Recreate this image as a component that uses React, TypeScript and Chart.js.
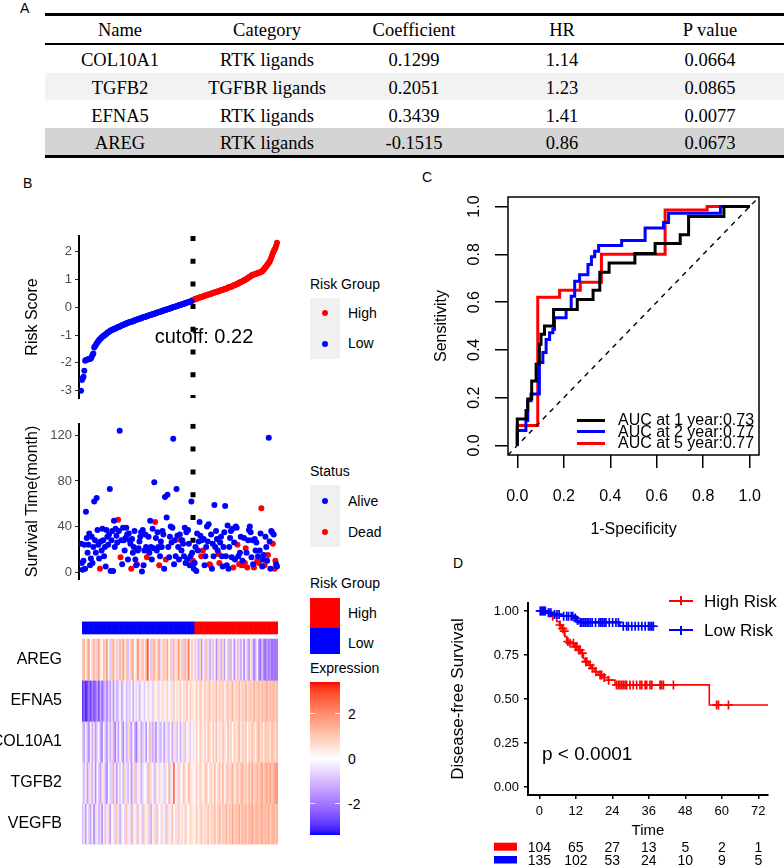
import React, { useEffect, useRef } from "react";
import { Chart, registerables } from "chart.js";

Chart.register(...registerables);

const SANS = '"Liberation Sans", Arial, sans-serif';
const SERIF = '"Liberation Serif", "Times New Roman", serif';
Chart.defaults.font.family = SANS;

// ---------------- Panel A : table ----------------
const tableColumns = ["Name", "Category", "Coefficient", "HR", "P value"];
const geneNames = ["COL10A1", "TGFB2", "EFNA5", "AREG"];
const geneCategories = ["RTK ligands", "TGFBR ligands", "RTK ligands", "RTK ligands"];
const geneCoefficients = ["0.1299", "0.2051", "0.3439", "-0.1515"];
const geneHR = ["1.14", "1.23", "1.41", "0.86"];
const genePValues = ["0.0664", "0.0865", "0.0077", "0.0673"];

// ---------------- Panel B : risk score / survival / heatmap ----------------
const riskScores = [
  -3.0, -2.62, -2.56, -2.5, -2.28, -1.92, -1.9, -1.89, -1.88, -1.87,
  -1.86, -1.85, -1.84, -1.78, -1.72, -1.66, -1.45, -1.4, -1.36, -1.3,
  -1.26, -1.22, -1.18, -1.15, -1.12, -1.09, -1.06, -1.04, -1.02, -1.0,
  -0.97, -0.95, -0.92, -0.9, -0.88, -0.86, -0.84, -0.83, -0.81, -0.8,
  -0.78, -0.77, -0.76, -0.74, -0.73, -0.72, -0.7, -0.69, -0.68, -0.66,
  -0.65, -0.64, -0.62, -0.61, -0.6, -0.58, -0.57, -0.56, -0.55, -0.54,
  -0.53, -0.52, -0.51, -0.5, -0.49, -0.48, -0.46, -0.45, -0.44, -0.43,
  -0.42, -0.41, -0.4, -0.39, -0.38, -0.37, -0.36, -0.35, -0.34, -0.33,
  -0.32, -0.31, -0.3, -0.29, -0.28, -0.27, -0.26, -0.25, -0.24, -0.23,
  -0.22, -0.21, -0.2, -0.19, -0.18, -0.17, -0.16, -0.15, -0.14, -0.13,
  -0.12, -0.11, -0.1, -0.09, -0.08, -0.07, -0.06, -0.05, -0.04, -0.03,
  -0.02, -0.01, 0.0, 0.01, 0.02, 0.03, 0.04, 0.05, 0.06, 0.07,
  0.08, 0.09, 0.1, 0.11, 0.12, 0.13, 0.14, 0.15, 0.16, 0.17,
  0.18, 0.19, 0.2, 0.21, 0.22,
  0.24, 0.26, 0.27, 0.29, 0.3,
  0.31, 0.32, 0.33, 0.34, 0.35, 0.36, 0.37, 0.38, 0.39, 0.4,
  0.41, 0.42, 0.43, 0.44, 0.45, 0.46, 0.47, 0.48, 0.49, 0.5,
  0.51, 0.52, 0.53, 0.54, 0.55, 0.56, 0.57, 0.58, 0.59, 0.6,
  0.61, 0.62, 0.63, 0.64, 0.65, 0.66, 0.67, 0.68, 0.7, 0.71,
  0.72, 0.73, 0.74, 0.75, 0.76, 0.78, 0.79, 0.8, 0.82, 0.83,
  0.85, 0.86, 0.88, 0.89, 0.91, 0.92, 0.94, 0.95, 0.97, 0.98,
  1.0, 1.02, 1.04, 1.06, 1.08, 1.1, 1.12, 1.14, 1.16, 1.17,
  1.18, 1.19, 1.2, 1.21, 1.22, 1.23, 1.24, 1.25, 1.26, 1.28,
  1.3, 1.33, 1.36, 1.4, 1.44, 1.48, 1.52, 1.56, 1.6, 1.64,
  1.7, 1.78, 1.86, 1.94, 2.02, 2.08, 2.12, 2.22, 2.32,
];
const lowRiskCount = 135;
const cutoffLinePosition = 137;
const cutoffLabel = "cutoff: 0.22";
const riskTicks = [-3, -2, -1, 0, 1, 2];

const survivalMonths = [
  25, 8, 2, 10, 24, 3, 53, 30, 17, 24,
  34, 6, 12, 31, 8, 22, 62, 28, 17, 65,
  37, 24, 12, 3, 27, 19, 38, 28, 14, 22,
  5, 37, 31, 24, 33, 73, 1, 28, 36, 1,
  45, 22, 38, 32, 26, 46, 36, 124, 13, 28,
  7, 39, 28, 19, 30, 39, 33, 11, 34, 28,
  25, 3, 29, 17, 22, 36, 11, 6, 7, 19,
  21, 27, 31, 35, 0.5, 37, 6, 19, 33, 22,
  13, 19, 31, 17, 45, 22, 11, 38, 21, 79,
  44, 30, 19, 35, 22, 6, 14, 27, 22, 36,
  33, 3, 66, 11, 48, 68, 22, 13, 31, 40,
  26, 39, 117, 7, 28, 14, 73, 32, 22, 11,
  33, 28, 19, 28, 25, 14, 39, 8, 35, 11,
  37, 25, 6, 14, 62, 17, 10, 3, 8, 22,
  1, 34, 19, 27, 44, 32, 14, 28, 19, 29,
  6, 14, 22, 40, 27, 42, 7, 6, 33, 3,
  25, 14, 59, 22, 36, 29, 19, 16, 8, 26,
  31, 14, 5, 22, 35, 58, 14, 6, 41, 3,
  22, 30, 36, 13, 38, 4, 26, 11, 40, 39,
  24, 14, 7, 17, 31, 6, 10, 6, 30, 8,
  21, 17, 4, 28, 37, 40, 35, 13, 28, 7,
  4, 29, 19, 26, 10, 14, 8, 19, 34, 56,
  5, 11, 15, 6, 31, 22, 10, 15, 118, 27,
  3, 36, 35, 25, 33, 3, 10, 7, 5,
];
const deadSamples = [
  24, 46, 49, 62, 69, 81, 91, 96, 104, 122, 137, 147, 149, 157, 158, 168, 169,
  186, 191, 193, 196, 198, 200, 201, 203, 211, 215, 217, 220, 224, 228, 234, 236, 237,
];
const survivalTicks = [0, 40, 80, 120];

const heatmapGenes = ["AREG", "EFNA5", "COL10A1", "TGFB2", "VEGFB"];
const heatmapLowCount = 69;
const expressionAREG = [
  0.9, 1.4, 0.2, 1.1, 1.6, 0.0, 0.8, 1.3, -0.6, 1.0,
  1.5, 0.5, -0.1, 1.2, 0.7, 1.8, 0.2, -0.8, 1.0, 1.4,
  0.4, 0.9, -0.5, 1.3, 0.6, 1.7, 0.3, 1.1, -0.9, 0.5,
  1.2, 1.5, 0.0, 0.8, 1.9, -0.4, 0.7, 1.2, 0.4, 1.4,
  2.8, 0.2, -0.9, 1.0, 1.3, 0.3, 0.9, 1.5, -0.5, 0.6,
  1.1, 0.6, 1.6, 0.0, 1.0, -0.7, 1.2, 0.5, 0.8, 1.7,
  0.3, 1.0, -0.8, 1.3, 0.7, 2.3, 0.2, 0.9, 0.4,
  -0.7, 0.5, -1.1, 0.8, -1.5, 0.1, -0.8, 1.1, -0.4, -1.3,
  0.6, -0.9, 0.2, -1.6, 0.9, -0.5, -1.2, 0.7, -1.4, 0.0,
  -0.8, 1.2, -1.0, -0.2, -1.7, 0.4, -0.9, 0.8, -1.3, -0.3,
  -1.8, 0.3, -1.0, -1.5, 0.5, -0.7, -1.9, -1.1, 0.1, -1.6,
  -2.1, -0.8, -1.7, -2.3, -1.3, -2.0, -1.5, -2.2, -1.8, -2.1,
  -1.9,
];
const expressionEFNA5 = [
  -2.9, -2.3, -3.1, -2.6, -2.0, -2.8, -1.8, -2.5, -2.2, -1.5,
  -2.6, -1.2, -2.1, -1.6, -0.8, -1.9, -0.7, -1.4, -0.4, -1.6,
  -0.3, -1.1, -0.8, -0.1, -1.3, -0.6, 0.1, -1.0, -0.4, -0.9,
  0.0, -1.2, 0.3, -0.6, -0.3, -1.0, 0.4, -0.2, -0.8, 0.1,
  -0.5, 0.5, -0.2, -0.7, 0.5, -0.1, 0.6, -0.5, 0.2, 0.7,
  -0.3, 0.3, 0.8, -0.1, 0.5, -0.4, 0.9, 0.2, 0.6, 0.3,
  1.0, 0.0, 0.7, 0.4, 1.1, 0.2, 0.8, 0.5, 0.3,
  0.4, 0.9, 0.2, 1.0, 0.6, 0.3, 0.9, 0.5, 0.8, 1.1,
  0.3, 0.8, 0.6, 1.2, 0.4, 0.9, 0.6, 1.0, 0.3, 0.7,
  1.1, 0.5, 0.8, 1.3, 0.4, 0.9, 0.7, 1.2, 0.5, 1.0,
  0.7, 1.3, 0.6, 0.9, 1.1, 0.6, 1.4, 0.8, 1.0, 1.2,
  0.7, 1.3, 0.9, 1.1, 1.5, 0.8, 1.2, 1.0, 1.4, 0.9,
  1.2,
];
const expressionCOL10A1 = [
  -0.7, -1.4, 0.3, -1.0, -1.7, -0.2, -1.2, 0.5, -1.5, -0.6,
  -0.1, -1.3, -1.8, 0.2, -0.9, -1.6, -0.3, -1.1, 0.6, -1.0,
  -1.9, -0.4, -1.4, 0.1, -0.9, -1.7, -0.2, -1.2, 0.7, -0.7,
  -1.5, -0.1, -1.1, -2.0, -0.5, 0.4, -1.3, -0.8, -0.3, -1.6,
  0.0, -1.0, 0.8, -1.2, -0.6, -1.7, 0.3, -0.8, -1.1, -0.2,
  -1.4, 0.5, -0.6, -1.0, -0.1, -1.3, 0.6, -0.5, -0.9, 0.2,
  -1.1, -0.3, 0.7, -0.8, -0.1, 0.4, -0.7, 0.1, -0.4,
  0.3, 0.8, 0.0, 1.0, 0.5, -0.3, 0.8, 0.3, 1.1, 0.6,
  0.1, 0.9, 0.4, 1.1, -0.2, 0.7, 0.3, 1.0, 0.6, 0.2,
  1.1, 0.5, 0.8, 0.0, 1.0, 0.4, 0.7, 1.2, 0.3, 0.9,
  0.6, 1.1, 0.1, 0.8, 0.5, 1.2, 0.7, 0.3, 1.0, 1.3,
  0.6, 0.9, 0.4, 1.1, 0.8, 1.0, 0.5, 1.2, 0.9, 0.7,
  1.0,
];
const expressionTGFB2 = [
  -0.4, -1.0, 0.3, -1.4, -0.6, 0.5, -1.2, -0.2, -1.7, 0.1,
  -0.8, -1.3, 0.6, -0.4, -1.0, -1.8, 0.0, -0.7, 0.9, -1.1,
  -0.3, -1.5, 0.4, -0.8, -0.1, -1.2, 0.7, -0.5, -1.0, 0.2,
  -1.6, -0.4, 1.0, -0.9, -0.2, 0.5, -1.1, -0.6, 0.1, -0.3,
  1.1, -0.8, 0.6, -0.1, -1.0, 0.8, 0.2, -0.6, 0.4, -0.2,
  -0.7, 0.7, 0.0, 1.3, -0.5, 0.4, 2.6, 0.1, -0.4, 0.9,
  0.3, -0.2, 1.0, 0.5, 0.1, 1.2, 0.6, 0.3, -0.1,
  0.3, 0.8, 0.1, 0.9, 0.5, 0.2, 0.8, 1.1, 0.1, 0.6,
  0.9, 0.3, 1.2, 0.2, 0.7, 1.0, 0.4, 1.3, 0.2, 0.8,
  1.1, 0.5, 0.9, 1.4, 0.3, 0.8, 1.2, 0.6, 1.0, 1.4,
  0.6, 1.1, 0.5, 1.3, 0.8, 1.5, 0.7, 1.0, 1.3, 0.9,
  1.2, 1.6, 0.8, 1.3, 1.5, 1.0, 1.7, 0.9, 1.4, 1.6,
  1.8,
];
const expressionVEGFB = [
  -1.0, -0.4, -1.5, 0.2, -0.8, -1.3, -0.2, -1.7, -0.6, 0.4,
  -1.1, -0.5, -1.6, 0.3, -0.9, -0.3, 0.7, -1.4, -0.1, 0.5,
  -0.8, 0.9, -0.4, -1.2, 0.6, 0.0, -0.7, 1.0, -0.3, 0.4,
  -1.0, 0.8, 0.1, -0.6, 1.1, -0.2, 0.5, -0.9, 0.7, 0.2,
  -0.5, 0.9, -1.2, 0.3, 0.6, -0.7, 1.0, 0.0, -0.4, 0.7,
  0.2, -0.8, 0.8, 0.4, -0.3, 1.1, 0.1, 0.6, -0.5, 0.9,
  0.3, 0.7, -0.2, 1.0, 0.4, 0.1, 0.8, 0.5, 0.2,
  0.4, 0.9, 0.2, 0.7, 1.0, 0.3, 0.8, 0.5, 1.1, 0.3,
  0.9, 0.6, 1.2, 0.4, 0.8, 1.3, 0.5, 1.0, 0.7, 1.4,
  0.6, 1.1, 0.8, 1.5, 0.7, 1.2, 0.9, 1.5, 0.8, 1.3,
  1.0, 1.4, 0.8, 1.3, 1.1, 1.6, 0.9, 1.2, 1.4, 1.0,
  1.2, 1.5, 1.0, 1.3, 1.1, 1.5, 0.9, 1.2, 1.4, 1.0,
  1.3,
];
const expressionLegendTicks = [2, 0, -2];
const expressionLimit = 3.4;

// ---------------- Panel C : time-dependent ROC ----------------
const roc1yFpr = [0, 0.0375, 0.045, 0.062, 0.081, 0.095, 0.102, 0.117, 0.156, 0.258, 0.326, 0.355, 0.395, 0.506, 0.593, 0.701, 0.737, 0.889, 1.0];
const roc1yTpr = [0, 0.111, 0.146, 0.194, 0.27, 0.34, 0.424, 0.465, 0.5, 0.569, 0.611, 0.65, 0.725, 0.764, 0.803, 0.845, 0.882, 0.958, 1.0];
const roc2yFpr = [0, 0.037, 0.045, 0.059, 0.095, 0.11, 0.124, 0.139, 0.153, 0.16, 0.21, 0.232, 0.247, 0.268, 0.304, 0.319, 0.333, 0.35, 0.449, 0.55, 0.629, 0.651, 0.874, 1.0];
const roc2yTpr = [0, 0.0625, 0.104, 0.1875, 0.215, 0.347, 0.389, 0.444, 0.472, 0.486, 0.535, 0.569, 0.625, 0.6875, 0.715, 0.757, 0.79, 0.8125, 0.8375, 0.858, 0.91, 0.933, 0.972, 1.0];
const roc5yFpr = [0, 0.088, 0.182, 0.271, 0.362, 0.636, 0.817, 1.0];
const roc5yTpr = [0, 0.083, 0.62, 0.65, 0.683, 0.8, 0.986, 1.0];
const rocLegend = ["AUC at 1 year:0.73", "AUC at 2 year:0.77", "AUC at 5 year:0.77"];
const rocTicks = [0, 0.2, 0.4, 0.6, 0.8, 1.0];

// ---------------- Panel D : Kaplan-Meier ----------------
const kmHighEventTimes = [2.4, 4.0, 5.7, 6.6, 7.3, 7.8, 8.4, 9.0, 10.0, 11.7, 12.8, 13.9, 14.5, 15.0, 16.1, 17.2, 18.3, 19.4, 21.0, 22.7, 24.9, 55.9];
const kmHighSurvival = [0.99, 0.97, 0.94, 0.92, 0.9, 0.885, 0.855, 0.826, 0.816, 0.797, 0.778, 0.76, 0.73, 0.712, 0.693, 0.674, 0.655, 0.636, 0.622, 0.607, 0.58, 0.466];
const kmHighCensored = [3.3, 4.4, 6.8, 7.7, 8.2, 9.4, 10.1, 11.2, 11.9, 12.3, 13.0, 13.4, 14.1, 15.3, 15.6, 16.7, 17.5, 18.6, 20.0, 20.5, 21.3, 22.8, 25.4, 26.0, 26.5, 27.1, 27.6, 28.2, 28.7, 29.8, 30.9, 32.0, 33.1, 33.7, 34.8, 35.3, 36.4, 37.0, 39.7, 40.2, 40.8, 44.1, 58.3, 58.9, 62.2];
const kmHighLastTime = 75.2;
const kmLowEventTimes = [2.5, 4.6, 7.3, 11.2, 12.3, 12.8, 26.5];
const kmLowSurvival = [0.99, 0.98, 0.97, 0.96, 0.945, 0.935, 0.913];
const kmLowCensored = [0.3, 0.6, 1.0, 1.3, 1.7, 2.0, 3.0, 3.8, 5.0, 5.8, 6.5, 8.0, 9.0, 9.6, 10.5, 11.0, 11.8, 12.6, 13.5, 14.0, 14.6, 15.1, 15.7, 16.2, 16.8, 17.4, 18.5, 19.6, 20.2, 20.7, 21.3, 21.9, 23.0, 24.1, 25.2, 26.0, 27.6, 28.7, 29.3, 30.4, 31.5, 32.6, 33.7, 34.8, 35.9, 36.4, 37.0, 37.5];
const kmLowLastTime = 37.8;
const kmTimeTicks = [0, 12, 24, 36, 48, 60, 72];
const kmSurvTicks = [0, 0.25, 0.5, 0.75, 1.0];
const atRiskHigh = [104, 65, 27, 13, 5, 2, 1];
const atRiskLow = [135, 102, 53, 24, 10, 9, 5];
const kmPValue = "p < 0.0001";

// ---------------- colour helpers (LAB interpolation blue-white-red) ----------------
function toLin(c: number) { c /= 255; return c <= 0.04045 ? c / 12.92 : Math.pow((c + 0.055) / 1.055, 2.4); }
function fromLin(c: number) { const v = c <= 0.0031308 ? 12.92 * c : 1.055 * Math.pow(c, 1 / 2.4) - 0.055; return Math.round(Math.max(0, Math.min(1, v)) * 255); }
function rgbToLab(rgb: number[]) {
  const R = toLin(rgb[0]), G = toLin(rgb[1]), B = toLin(rgb[2]);
  const X = (0.4124 * R + 0.3576 * G + 0.1805 * B) / 0.95047;
  const Y = 0.2126 * R + 0.7152 * G + 0.0722 * B;
  const Z = (0.0193 * R + 0.1192 * G + 0.9505 * B) / 1.08883;
  const f = (t: number) => (t > 0.008856 ? Math.cbrt(t) : 7.787 * t + 16 / 116);
  return [116 * f(Y) - 16, 500 * (f(X) - f(Y)), 200 * (f(Y) - f(Z))];
}
function labToRgb(lab: number[]) {
  const fy = (lab[0] + 16) / 116, fx = fy + lab[1] / 500, fz = fy - lab[2] / 200;
  const inv = (t: number) => (t * t * t > 0.008856 ? t * t * t : (t - 16 / 116) / 7.787);
  const X = inv(fx) * 0.95047, Y = inv(fy), Z = inv(fz) * 1.08883;
  return [
    fromLin(3.2406 * X - 1.5372 * Y - 0.4986 * Z),
    fromLin(-0.9689 * X + 1.8758 * Y + 0.0415 * Z),
    fromLin(0.0557 * X - 0.204 * Y + 1.057 * Z),
  ];
}
const LAB_BLUE = rgbToLab([0, 0, 255]);
const LAB_WHITE = rgbToLab([255, 255, 255]);
const LAB_RED = rgbToLab([255, 0, 0]);
function expressionColor(v: number) {
  const t = Math.max(-1, Math.min(1, v / expressionLimit));
  const end = t >= 0 ? LAB_RED : LAB_BLUE;
  const a = Math.abs(t);
  const rgb = labToRgb(LAB_WHITE.map((w, i) => w + (end[i] - w) * a));
  return `rgb(${rgb[0]},${rgb[1]},${rgb[2]})`;
}

const RED = "#FF0000";
const BLUE = "#0000FF";

// ---------------- generic pieces ----------------
function Txt(props: { x: number; y: number; size: number; children: any; align?: string; family?: string; color?: string }) {
  const { x, y, size, children, align = "left", family = SANS, color = "#000" } = props;
  const asc = family === SERIF ? 0.8375 : 0.8465;
  const tx = align === "center" ? "translateX(-50%)" : align === "right" ? "translateX(-100%)" : undefined;
  return (
    <div style={{ position: "absolute", left: x, top: y - asc * size, fontSize: size, lineHeight: `${size}px`, fontFamily: family, color, whiteSpace: "nowrap", transform: tx }}>
      {children}
    </div>
  );
}
function Box(props: { x: number; y: number; w: number; h: number; bg: string; round?: boolean }) {
  const { x, y, w, h, bg, round } = props;
  return <div style={{ position: "absolute", left: x, top: y, width: w, height: h, background: bg, borderRadius: round ? "50%" : 0 }} />;
}

function ChartCanvas(props: { left: number; top: number; width: number; height: number; make: () => any }) {
  const ref = useRef<HTMLCanvasElement>(null);
  useEffect(() => {
    const chart = new Chart(ref.current as HTMLCanvasElement, props.make());
    return () => chart.destroy();
  }, []);
  return (
    <canvas ref={ref} width={props.width} height={props.height}
      style={{ position: "absolute", left: props.left, top: props.top, width: props.width, height: props.height }} />
  );
}

const baseOptions = {
  responsive: false,
  maintainAspectRatio: false,
  animation: false,
  devicePixelRatio: 1,
  events: [],
  plugins: { legend: { display: false }, tooltip: { enabled: false } },
};
const fixTicks = (vals: number[]) => (s: any) => { s.ticks = vals.map((v) => ({ value: v })); };

// ---------------- chart configs ----------------
const sampleXMin = -1.43;
const sampleXMax = 243.86;

function riskConfig() {
  const pts = riskScores.map((v, i) => ({ x: i + 1, y: v }));
  const yMin = -3.265, yMax = 2.565;
  return {
    type: "scatter",
    data: {
      datasets: [
        { data: pts.slice(0, lowRiskCount), backgroundColor: BLUE, pointRadius: 3, borderWidth: 0 },
        { data: pts.slice(lowRiskCount), backgroundColor: RED, pointRadius: 3, borderWidth: 0 },
        { data: [{ x: cutoffLinePosition, y: yMax }, { x: cutoffLinePosition, y: yMin }], showLine: true, borderColor: "#000", borderWidth: 5, borderDash: [5, 17.7], pointRadius: 0 },
      ],
    },
    options: {
      ...baseOptions,
      layout: { padding: { top: 66, right: 19, bottom: 12, left: 0 } },
      scales: {
        x: { type: "linear", min: sampleXMin, max: sampleXMax, display: false },
        y: {
          type: "linear", min: yMin, max: yMax,
          afterBuildTicks: fixTicks(riskTicks),
          afterFit: (s: any) => { s.width = 79; },
          ticks: { font: { size: 13 }, color: "#4d4d4d", padding: 3, callback: (v: any) => String(v) },
          grid: { drawOnChartArea: false, tickLength: 4, color: "#333", lineWidth: 1 },
          border: { display: true, color: "#000", width: 2 },
          title: { display: true, text: "Risk Score", font: { size: 16 }, color: "#000", padding: { top: 23.4, bottom: 0 } },
        },
      },
    },
  };
}

function survivalConfig() {
  const dead = new Set(deadSamples);
  const pts = survivalMonths.map((v, i) => ({ x: i + 1, y: v }));
  const yMin = -6.2, yMax = 130.2;
  return {
    type: "scatter",
    data: {
      datasets: [
        { data: pts.filter((p) => !dead.has(p.x)), backgroundColor: BLUE, pointRadius: 3, borderWidth: 0 },
        { data: pts.filter((p) => dead.has(p.x)), backgroundColor: RED, pointRadius: 3, borderWidth: 0 },
        { data: [{ x: cutoffLinePosition, y: yMax }, { x: cutoffLinePosition, y: yMin }], showLine: true, borderColor: "#000", borderWidth: 5, borderDash: [5, 17.8], pointRadius: 0 },
      ],
    },
    options: {
      ...baseOptions,
      layout: { padding: { top: 13.8, right: 19, bottom: 2.6, left: 0 } },
      scales: {
        x: { type: "linear", min: sampleXMin, max: sampleXMax, display: false },
        y: {
          type: "linear", min: yMin, max: yMax,
          afterBuildTicks: fixTicks(survivalTicks),
          afterFit: (s: any) => { s.width = 79; },
          ticks: { font: { size: 13 }, color: "#4d4d4d", padding: 3, callback: (v: any) => String(v) },
          grid: { drawOnChartArea: false, tickLength: 4, color: "#333", lineWidth: 1 },
          border: { display: true, color: "#000", width: 2 },
          title: { display: true, text: "Survival Time(month)", font: { size: 16 }, color: "#000", padding: { top: 23.4, bottom: 0 } },
        },
      },
    },
  };
}

const HEAT_GAP = 6 / 47;
const HEAT_ANNOT = 14 / 47;

function heatmapConfig() {
  const rows = [expressionAREG, expressionEFNA5, expressionCOL10A1, expressionTGFB2, expressionVEGFB];
  const labels = expressionAREG.map((_, i) => String(i + 1));
  const datasets: any[] = rows.map((row, r) => {
    const base = heatmapGenes.length - 1 - r;
    return {
      data: row.map(() => [base, base + 1]),
      backgroundColor: row.map(expressionColor),
      grouped: false, barPercentage: 1, categoryPercentage: 1, borderWidth: 0,
    };
  });
  const top = heatmapGenes.length;
  datasets.push({
    data: labels.map(() => [top + HEAT_GAP, top + HEAT_GAP + HEAT_ANNOT]),
    backgroundColor: labels.map((_, i) => (i < heatmapLowCount ? BLUE : RED)),
    grouped: false, barPercentage: 1, categoryPercentage: 1, borderWidth: 0,
  });
  return {
    type: "bar",
    data: { labels, datasets },
    options: {
      ...baseOptions,
      layout: { padding: { top: 10, right: 22, bottom: 1, left: 0 } },
      scales: {
        x: { type: "category", display: false, offset: true },
        y: {
          type: "linear", min: 0, max: top + HEAT_GAP + HEAT_ANNOT,
          afterBuildTicks: fixTicks(heatmapGenes.map((_, i) => i + 0.5)),
          afterFit: (s: any) => { s.width = 82; },
          ticks: { font: { size: 16 }, color: "#000", padding: 12, callback: (v: any) => heatmapGenes[heatmapGenes.length - 1 - Math.floor(Number(v))] },
          grid: { display: false },
          border: { display: false },
        },
      },
    },
  };
}

function rocConfig() {
  const line = (fx: number[], ty: number[], color: string) => ({
    data: fx.map((x, i) => ({ x, y: ty[i] })), showLine: true, stepped: "after",
    borderColor: color, borderWidth: 3, pointRadius: 0, tension: 0,
  });
  return {
    type: "scatter",
    data: {
      datasets: [
        { data: [{ x: -0.04, y: -0.04 }, { x: 1.04, y: 1.04 }], showLine: true, borderColor: "#000", borderWidth: 1.4, borderDash: [5, 5], pointRadius: 0 },
        line(roc1yFpr, roc1yTpr, "#000"),
        line(roc2yFpr, roc2yTpr, BLUE),
        line(roc5yFpr, roc5yTpr, RED),
      ],
    },
    options: {
      ...baseOptions,
      layout: { padding: { top: 32, right: 25, bottom: 0, left: 0 } },
      scales: {
        x: {
          type: "linear", min: -0.04, max: 1.04,
          afterBuildTicks: fixTicks(rocTicks),
          afterFit: (s: any) => { s.height = 95; },
          ticks: { font: { size: 16 }, color: "#000", padding: 19.4, maxRotation: 0, autoSkip: false, callback: (v: any) => Number(v).toFixed(1) },
          grid: { drawOnChartArea: false, tickLength: 13, color: "#000", lineWidth: 1.5 },
          border: { display: false },
          title: { display: true, text: "1-Specificity", font: { size: 16 }, color: "#000", padding: { top: 0, bottom: 10.4 } },
        },
        y: {
          type: "linear", min: -0.04, max: 1.04,
          afterBuildTicks: fixTicks(rocTicks),
          afterFit: (s: any) => { s.width = 108; },
          ticks: { font: { size: 16 }, color: "#000", padding: 8.9, minRotation: 90, maxRotation: 90, crossAlign: "center", autoSkip: false, callback: (v: any) => Number(v).toFixed(1) },
          grid: { drawOnChartArea: false, tickLength: 13, color: "#000", lineWidth: 1.5 },
          border: { display: false },
          title: { display: true, text: "Sensitivity", font: { size: 16 }, color: "#000", padding: { top: 32.4, bottom: 0 } },
        },
      },
    },
    plugins: [{
      id: "rocBox",
      afterDatasetsDraw(chart: any) {
        const { ctx, chartArea: a } = chart;
        ctx.save();
        ctx.strokeStyle = "#000";
        ctx.lineWidth = 1.5;
        ctx.strokeRect(a.left, a.top, a.right - a.left, a.bottom - a.top);
        ctx.restore();
      },
    }],
  };
}

function stepAt(times: number[], surv: number[], t: number) {
  let s = 1;
  for (let i = 0; i < times.length; i++) if (times[i] <= t) s = surv[i];
  return s;
}

function kmConfig() {
  const curve = (times: number[], surv: number[], last: number) => [
    { x: 0, y: 1 },
    ...times.map((t, i) => ({ x: t, y: surv[i] })),
    { x: last, y: surv[surv.length - 1] },
  ];
  const marks = (times: number[], surv: number[], cens: number[]) => cens.map((t) => ({ x: t, y: stepAt(times, surv, t) }));
  return {
    type: "scatter",
    data: {
      datasets: [
        { data: curve(kmLowEventTimes, kmLowSurvival, kmLowLastTime), showLine: true, stepped: true, borderColor: BLUE, borderWidth: 1.6, pointRadius: 0 },
        { data: marks(kmLowEventTimes, kmLowSurvival, kmLowCensored), pointStyle: "cross", pointRadius: 4.5, borderColor: BLUE, borderWidth: 1.7 },
        { data: curve(kmHighEventTimes, kmHighSurvival, kmHighLastTime), showLine: true, stepped: true, borderColor: RED, borderWidth: 1.6, pointRadius: 0 },
        { data: marks(kmHighEventTimes, kmHighSurvival, kmHighCensored), pointStyle: "cross", pointRadius: 4.5, borderColor: RED, borderWidth: 1.7 },
      ],
    },
    options: {
      ...baseOptions,
      layout: { padding: { top: 13, right: 16, bottom: 0, left: 0 } },
      scales: {
        x: {
          type: "linear", min: -3.72, max: 75.2,
          afterBuildTicks: fixTicks(kmTimeTicks),
          afterFit: (s: any) => { s.height = 71; },
          ticks: { font: { size: 13 }, color: "#000", padding: 4.2, maxRotation: 0, autoSkip: false },
          grid: { drawOnChartArea: false, tickLength: 4, color: "#000", lineWidth: 1.5 },
          border: { display: true, color: "#000", width: 2 },
          title: { display: true, text: "Time", font: { size: 15 }, color: "#000", padding: { top: 0, bottom: 26 } },
        },
        y: {
          type: "linear", min: -0.045, max: 1.045,
          afterBuildTicks: fixTicks(kmSurvTicks),
          afterFit: (s: any) => { s.width = 128; },
          ticks: { font: { size: 13 }, color: "#000", padding: 5, callback: (v: any) => Number(v).toFixed(2) },
          grid: { drawOnChartArea: false, tickLength: 4, color: "#000", lineWidth: 1.5 },
          border: { display: true, color: "#000", width: 2 },
          title: { display: true, text: "Disease-free Survival", font: { size: 17 }, color: "#000", padding: { top: 47.8, bottom: 0 } },
        },
      },
    },
    plugins: [{
      id: "riskTable",
      afterDraw(chart: any) {
        const { ctx } = chart;
        const xs = chart.scales.x;
        ctx.save();
        ctx.fillStyle = RED;
        ctx.fillRect(94, 252.7, 23, 8);
        ctx.fillStyle = BLUE;
        ctx.fillRect(94, 266, 23, 7.5);
        ctx.font = `14px ${SANS}`;
        ctx.textAlign = "center";
        ctx.textBaseline = "alphabetic";
        ctx.fillStyle = "#000";
        kmTimeTicks.forEach((t, i) => {
          const x = xs.getPixelForValue(t);
          ctx.fillText(String(atRiskHigh[i]), x, 261.7);
          ctx.fillText(String(atRiskLow[i]), x, 275);
        });
        ctx.restore();
      },
    }],
  };
}

// ---------------- App ----------------
export default function App() {
  useEffect(() => { document.body.style.margin = "0"; }, []);
  const colCenters = [120, 267, 414, 562, 710];
  const rowBaselines = [66.7, 94, 122.3, 149.3];
  const rows = geneNames.map((n, i) => [n, geneCategories[i], geneCoefficients[i], geneHR[i], genePValues[i]]);
  const cbTop = 682, cbH = 153;
  const cbY = (v: number) => cbTop + ((expressionLimit - v) / (2 * expressionLimit)) * cbH;
  const gradStops: string[] = [];
  for (let k = 0; k <= 34; k++) {
    const v = expressionLimit - (k / 34) * 2 * expressionLimit;
    gradStops.push(`${expressionColor(v)} ${((k / 34) * 100).toFixed(2)}%`);
  }
  return (
    <div style={{ position: "absolute", left: 0, top: 0, width: 784, height: 866, background: "#fff", overflow: "hidden", fontFamily: SANS }}>
      {/* Panel A */}
      <Txt x={20} y={13} size={14}>A</Txt>
      <Box x={45} y={73} w={739} h={27} bg="#f2f2f2" />
      <Box x={45} y={128} w={739} h={27} bg="#d4d4d4" />
      <Box x={45} y={13} w={739} h={3} bg="#000" />
      <Box x={45} y={43} w={739} h={2} bg="#000" />
      <Box x={45} y={155} w={739} h={3} bg="#000" />
      {tableColumns.map((c, j) => (
        <Txt key={"h" + j} x={colCenters[j]} y={36.7} size={18.5} align="center" family={SERIF}>{c}</Txt>
      ))}
      {rows.map((r, i) => r.map((c, j) => (
        <Txt key={`r${i}c${j}`} x={colCenters[j]} y={rowBaselines[i]} size={18.5} align="center" family={SERIF}>{c}</Txt>
      )))}

      {/* Panel B */}
      <Txt x={23} y={188} size={14}>B</Txt>
      <ChartCanvas left={0} top={170} width={300} height={240} make={riskConfig} />
      <ChartCanvas left={0} top={410} width={300} height={180} make={survivalConfig} />
      <ChartCanvas left={0} top={600} width={300} height={266} make={heatmapConfig} />
      <Txt x={204} y={343} size={20} align="center">{cutoffLabel}</Txt>

      <Txt x={310} y={289} size={14}>Risk Group</Txt>
      <Box x={310} y={298} w={30} h={61} bg="#f0f0f0" />
      <Box x={322} y={310} w={6} h={6} bg={RED} round />
      <Box x={322} y={341} w={6} h={6} bg={BLUE} round />
      <Txt x={348} y={318} size={14}>High</Txt>
      <Txt x={348} y={348} size={14}>Low</Txt>

      <Txt x={310} y={476} size={14}>Status</Txt>
      <Box x={310} y={485} w={30} h={62} bg="#f0f0f0" />
      <Box x={322} y={498} w={6} h={6} bg={BLUE} round />
      <Box x={322} y={529} w={6} h={6} bg={RED} round />
      <Txt x={348} y={506} size={14}>Alive</Txt>
      <Txt x={348} y={537} size={14}>Dead</Txt>

      <Txt x={310} y={588} size={14}>Risk Group</Txt>
      <Box x={310} y={598} w={30} h={30} bg={RED} />
      <Box x={310} y={628} w={30} h={26} bg={BLUE} />
      <Txt x={348} y={618} size={14}>High</Txt>
      <Txt x={348} y={648} size={14}>Low</Txt>

      <Txt x={310} y={673} size={14}>Expression</Txt>
      <div style={{ position: "absolute", left: 310, top: cbTop, width: 30, height: cbH, background: `linear-gradient(to bottom, ${gradStops.join(", ")})` }} />
      {expressionLegendTicks.map((v) => (
        <React.Fragment key={"cb" + v}>
          <Box x={310} y={cbY(v) - 0.5} w={5} h={1} bg="rgba(255,255,255,0.8)" />
          <Box x={335} y={cbY(v) - 0.5} w={5} h={1} bg="rgba(255,255,255,0.8)" />
          <Txt x={348} y={cbY(v) + 5} size={14}>{String(v)}</Txt>
        </React.Fragment>
      ))}

      {/* Panel C */}
      <Txt x={422} y={182} size={14}>C</Txt>
      <ChartCanvas left={400} top={165} width={384} height={385} make={rocConfig} />
      {rocLegend.map((t, i) => (
        <React.Fragment key={"rl" + i}>
          <Box x={577} y={[420, 431.7, 443.3][i] - 1.5} w={28} h={3} bg={["#000", BLUE, RED][i]} />
          <Txt x={618} y={[425.5, 437.2, 449][i]} size={16}>{t}</Txt>
        </React.Fragment>
      ))}

      {/* Panel D */}
      <Txt x={453} y={568} size={14}>D</Txt>
      <ChartCanvas left={400} top={590} width={384} height={276} make={kmConfig} />
      <Box x={669} y={600} w={24} h={1.6} bg={RED} />
      <Box x={680.2} y={596.3} w={1.6} h={9} bg={RED} />
      <Txt x={704} y={607} size={17}>High Risk</Txt>
      <Box x={669} y={629.2} w={24} h={1.6} bg={BLUE} />
      <Box x={680.2} y={625.5} w={1.6} h={9} bg={BLUE} />
      <Txt x={704} y={636} size={17}>Low Risk</Txt>
      <Txt x={542} y={760} size={19}>{kmPValue}</Txt>
    </div>
  );
}
